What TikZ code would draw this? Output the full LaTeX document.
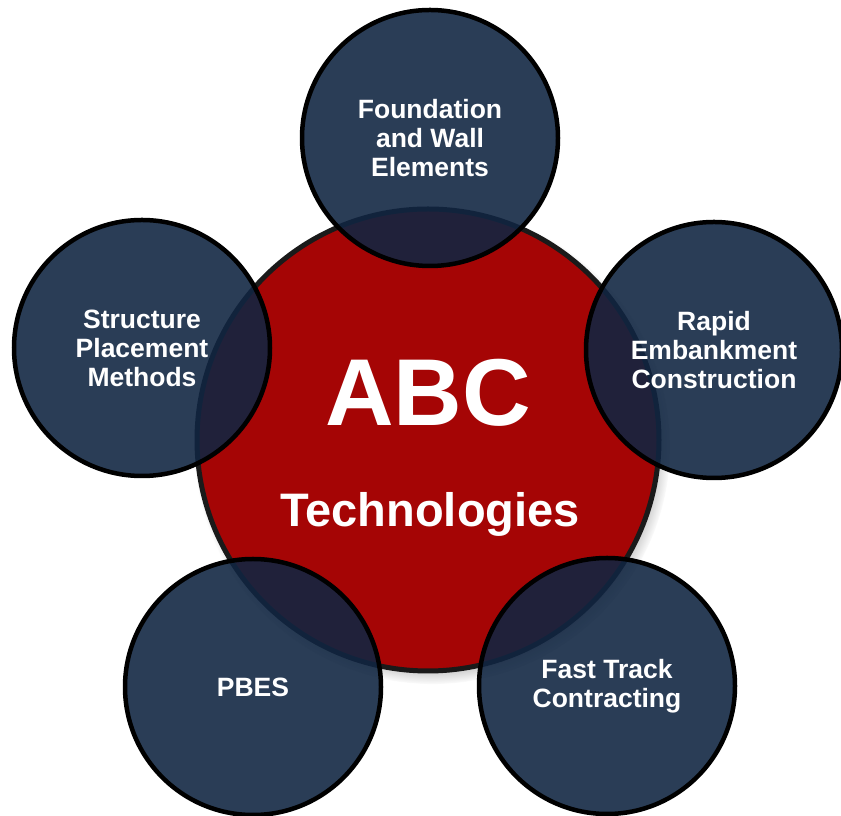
\documentclass[tikz,border=0pt]{standalone}
\usepackage{fontspec}
\setmainfont{Liberation Sans}
\usetikzlibrary{shadows}

\definecolor{abcred}{HTML}{A50505}
\definecolor{abcring}{HTML}{1A1A1A}
\definecolor{abcnavy}{HTML}{102541}

\tikzset{
  hub/.style={circle, fill=abcred, draw=abcring, line width=5pt,
    minimum size=462pt, inner sep=0pt,
    circular drop shadow={shadow xshift=4pt, shadow yshift=-6pt, shadow scale=1.03}},
  topic/.style={circle, fill=abcnavy, fill opacity=0.89, draw=black, draw opacity=1,
    text opacity=1, line width=4.5pt, minimum size=256pt, inner sep=0pt,
    text=white, align=center, font=\fontsize{26.5}{29}\selectfont\bfseries},
  hubtext/.style={text=white, font=\bfseries}
}

\begin{document}
\begin{tikzpicture}[x=1pt,y=1pt]
\useasboundingbox (0,0) rectangle (841,816);
% centre
\node [hub] (abc) at (428,376) {};
\node [hubtext, font=\fontsize{95}{95}\selectfont\bfseries] (abctitle) at (428,423) {ABC};
\node [hubtext, font=\fontsize{47}{47}\selectfont\bfseries] (abcsub) at (430,302) {Technologies};
% topics round it
\node [topic] (found) at (430,678) {Foundation\\and Wall\\Elements};
\node [topic] (struct) at (142,468) {Structure\\Placement\\Methods};
\node [topic] (rapid) at (714,466) {Rapid\\Embankment\\Construction};
\node [topic] (pbes) at (253,129) {PBES};
\node [topic] (fast) at (607,130) {Fast Track\\Contracting};
\end{tikzpicture}
\end{document}
